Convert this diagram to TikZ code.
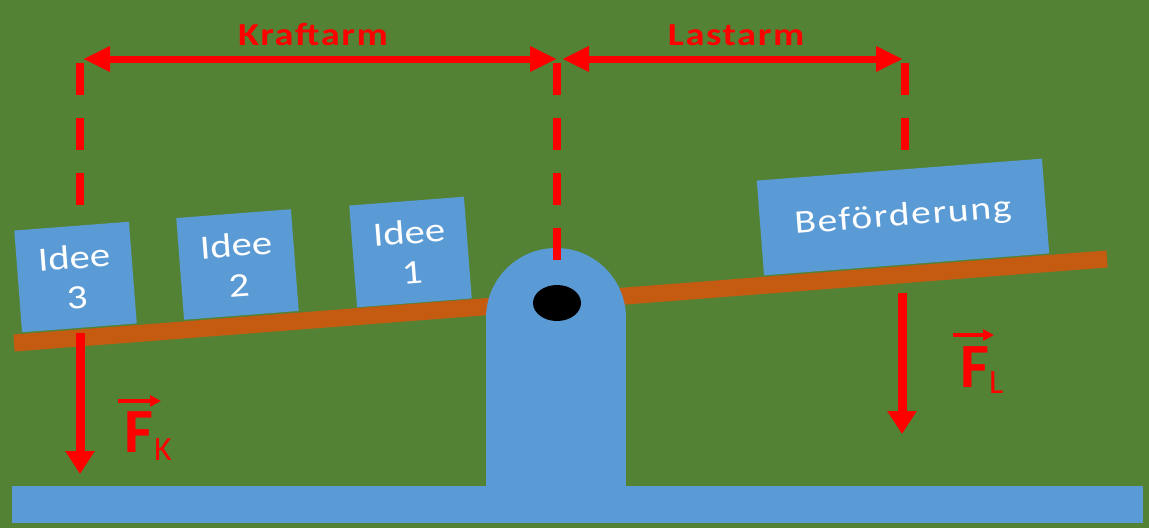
\documentclass[tikz,border=0pt]{standalone}
\usepackage{fontspec}
\setmainfont{Carlito}
\newfontfamily\boxfont[FakeStretch=1.2]{Carlito}
\newfontfamily\wideboxfont[FakeStretch=1.2,LetterSpace=5]{Carlito}
\newfontfamily\armfont[FakeStretch=1.2,LetterSpace=5]{Carlito}
\usetikzlibrary{arrows.meta}
\definecolor{bggreen}{RGB}{84,130,53}
\definecolor{partblue}{RGB}{91,155,213}
\definecolor{leverbrown}{RGB}{197,90,17}
\definecolor{forcered}{RGB}{255,0,0}
\begin{document}
\begin{tikzpicture}[x=1pt,y=-1pt,
  ideabox/.style={fill=partblue, text=white, inner sep=0pt, align=center,
    font=\boxfont\fontsize{34}{40}\selectfont, rotate=4.4},
  dimline/.style={forcered, line width=7pt,
    {Triangle[length=27pt,width=24pt]}-{Triangle[length=27pt,width=24pt]}},
  guide/.style={forcered, line width=8pt, dash pattern=on 32pt off 23pt},
  force/.style={forcered, line width=9pt, -{Triangle[length=23pt,width=28pt]}},
  armlabel/.style={text=forcered, font=\armfont\bfseries\fontsize{32}{38}\selectfont,
    inner sep=0pt, anchor=base},
  fmain/.style={text=forcered, font=\bfseries\fontsize{63}{70}\selectfont,
    inner sep=0pt, anchor=base west},
  fsub/.style={text=forcered, font=\fontsize{34}{40}\selectfont,
    inner sep=0pt, anchor=base west},
  vecarrow/.style={forcered, line width=4pt, -{Triangle[length=11pt,width=11pt]}}
]
% background
\fill[bggreen] (0,0) rectangle (1149,528);
\useasboundingbox (0,0) rectangle (1149,528);

% lever
\coordinate (levL) at (14,343);
\coordinate (levR) at (1107,259);
\draw[leverbrown, line width=17pt] (levL) -- (levR);

% boxes
\node[ideabox, minimum width=115pt, minimum height=102pt] (i3) at (75.5,277) {Idee\\3};
\node[ideabox, minimum width=115pt, minimum height=102pt] (i2) at (237.5,264.5) {Idee\\2};
\node[ideabox, minimum width=115pt, minimum height=102pt] (i1) at (410.5,252) {Idee\\1};
\node[ideabox, minimum width=286pt, minimum height=95pt, font=\wideboxfont\fontsize{33}{38}\selectfont]
  (bef) at (903,217) {\raisebox{-4pt}{Beförderung}};

% pillar and base
\fill[partblue] (556,318) circle[radius=70pt];
\fill[partblue] (486,318) rectangle (626,490);
\fill[partblue] (12,486) rectangle (1143,523);
\fill[black] (557,303) ellipse[x radius=24pt, y radius=18pt];

% guide lines
\coordinate (gL1) at (80,63);   \coordinate (gL2) at (80,206);
\coordinate (gM1) at (557,63);  \coordinate (gM2) at (557,262);
\coordinate (gR1) at (905,63);  \coordinate (gR2) at (905,151);
\draw[guide] (gL1) -- (gL2);
\draw[guide] (gM1) -- (gM2);
\draw[guide] (gR1) -- (gR2);

% arm arrows
\coordinate (kA) at (83,59);  \coordinate (kB) at (557,59);
\coordinate (lA) at (562,59); \coordinate (lB) at (903,59);
\draw[dimline] (kA) -- (kB);
\draw[dimline] (lA) -- (lB);
\node[armlabel] (kraft) at (313,45) {Kraftarm};
\node[armlabel] (last) at (736,45) {Lastarm};

% forces
\coordinate (fk1) at (80,333); \coordinate (fk2) at (80,474);
\coordinate (fl1) at (902,293); \coordinate (fl2) at (902,434);
\draw[force] (fk1) -- (fk2);
\draw[force] (fl1) -- (fl2);

\node[fmain] (FK) at (124,452) {F};
\node[fsub] (FKs) at (154,460) {K};
\coordinate (vk1) at (118,401); \coordinate (vk2) at (161,401);
\draw[vecarrow] (vk1) -- (vk2);

\node[fmain] (FL) at (960,387) {F};
\node[fsub] (FLs) at (989,393) {L};
\coordinate (vl1) at (953,335); \coordinate (vl2) at (994,335);
\draw[vecarrow] (vl1) -- (vl2);
\end{tikzpicture}
\end{document}
